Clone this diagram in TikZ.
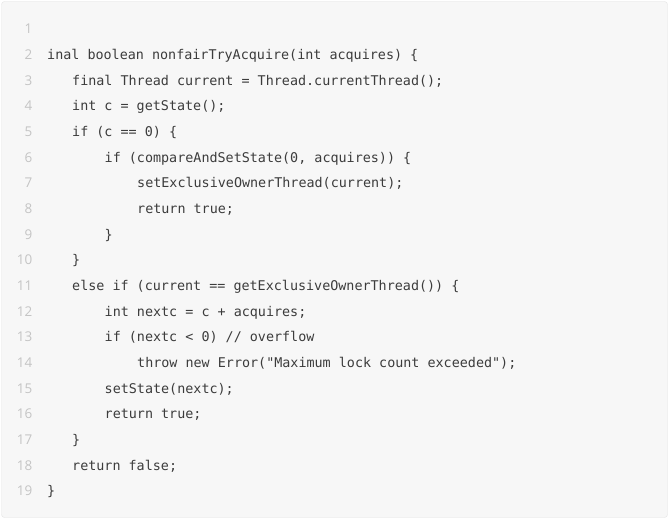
\documentclass[tikz,border=0pt]{standalone}
\usepackage{fontspec}
\setmonofont{DejaVu Sans Mono}
\newfontfamily\numfont{Open Sans}
\definecolor{bgc}{HTML}{F7F7F7}
\definecolor{bdc}{HTML}{E4E4E4}
\definecolor{codec}{HTML}{3C3C3C}
\definecolor{numc}{HTML}{C4C4C4}
\tikzset{
  codeline/.style={anchor=base west, inner sep=0pt, text=codec, font=\ttfamily\fontsize{13.45}{16}\selectfont},
  numline/.style={anchor=base east, inner sep=0pt, text=numc, font=\numfont\fontsize{13.5}{16}\selectfont}
}
\begin{document}
\begin{tikzpicture}[x=1bp,y=-1bp]
\useasboundingbox (0,0) rectangle (670,520);
\fill[white] (0,0) rectangle (670,520);
\draw[fill=bgc, draw=bdc, rounded corners=3bp] (1.5,1.5) rectangle (667.5,517.5);
% line numbers
\foreach \i in {1,...,19}{
  \node[numline] (n\i) at (32.5, {34+(\i-1)*25.65}) {\i};
}
\def\L#1{34+(#1-1)*25.65}
\node[codeline] (c2) at (47, {\L{2}}) {inal boolean nonfairTryAcquire(int acquires) \{};
\node[codeline] (c3) at (72, {\L{3}}) {final Thread current = Thread.currentThread();};
\node[codeline] (c4) at (72, {\L{4}}) {int c = getState();};
\node[codeline] (c5) at (72, {\L{5}}) {if (c == 0) \{};
\node[codeline] (c6) at (104.5, {\L{6}}) {if (compareAndSetState(0, acquires)) \{};
\node[codeline] (c7) at (137, {\L{7}}) {setExclusiveOwnerThread(current);};
\node[codeline] (c8) at (137, {\L{8}}) {return true;};
\node[codeline] (c9) at (104.5, {\L{9}}) {\}};
\node[codeline] (c10) at (72, {\L{10}}) {\}};
\node[codeline] (c11) at (72, {\L{11}}) {else if (current == getExclusiveOwnerThread()) \{};
\node[codeline] (c12) at (104.5, {\L{12}}) {int nextc = c + acquires;};
\node[codeline] (c13) at (104.5, {\L{13}}) {if (nextc < 0) // overflow};
\node[codeline] (c14) at (137, {\L{14}}) {throw new Error("Maximum lock count exceeded");};
\node[codeline] (c15) at (104.5, {\L{15}}) {setState(nextc);};
\node[codeline] (c16) at (104.5, {\L{16}}) {return true;};
\node[codeline] (c17) at (72, {\L{17}}) {\}};
\node[codeline] (c18) at (72, {\L{18}}) {return false;};
\node[codeline] (c19) at (47, {\L{19}}) {\}};
\end{tikzpicture}
\end{document}
